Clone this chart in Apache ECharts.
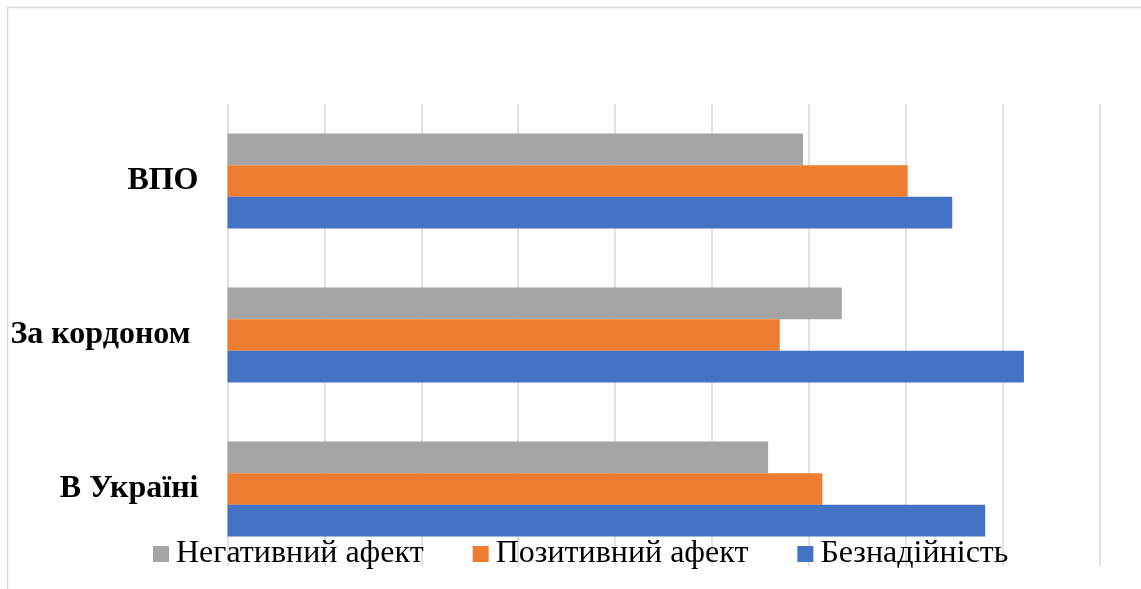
<!DOCTYPE html>
<html>
<head>
<meta charset="utf-8">
<script src="https://cdn.jsdelivr.net/npm/echarts@6/dist/echarts.min.js"></script>
<style>
  html, body { margin: 0; padding: 0; background: #ffffff; }
  #chart { width: 1141px; height: 589px; }
</style>
</head>
<body>
<div id="chart"></div>
<script>
// Groups, listed from the bottom of the chart upward
const categories = ['В Україні', 'За кордоном ', 'ВПО'];

// Series names and their values per group (same order as categories)
const seriesNames = ['Негативний афект', 'Позитивний афект', 'Безнадійність'];
const negativeAffect = [27.9, 31.7, 29.7];
const positiveAffect = [30.7, 28.5, 35.1];
const hopelessness   = [39.1, 41.1, 37.4];

const seriesColors = ['#a5a5a5', '#ed7d31', '#4472c4'];
const seriesValues = [negativeAffect, positiveAffect, hopelessness];

const chart = echarts.init(document.getElementById('chart'), null, { renderer: 'canvas' });

const serif = '"Liberation Serif", "Times New Roman", "DejaVu Serif", serif';

chart.setOption({
  animation: false,
  backgroundColor: '#ffffff',
  graphic: [{
    type: 'rect',
    shape: { x: 7.5, y: 7.5, width: 1200, height: 700 },
    style: { fill: 'none', stroke: '#d9d9d9', lineWidth: 1.5 },
    silent: true,
    z: -10
  }],
  grid: { left: 227.5, right: 41.5, top: 104, bottom: 23, containLabel: false },
  legend: {
    data: seriesNames,
    left: 153,
    top: 538,
    padding: 0,
    itemWidth: 16,
    itemHeight: 16,
    itemGap: 49,
    icon: 'rect',
    textStyle: { fontFamily: serif, fontSize: 32, color: '#000000', lineHeight: 32, padding: [0, 0, 0, 2] }
  },
  xAxis: {
    type: 'value',
    min: 0,
    max: 45,
    interval: 5,
    axisLabel: { show: false },
    axisLine: { show: false },
    axisTick: { show: false },
    splitLine: { show: true, lineStyle: { color: '#d9d9d9', width: 1.5 } }
  },
  yAxis: {
    type: 'category',
    data: categories,
    axisLine: { show: false },
    axisTick: { show: false },
    axisLabel: {
      fontFamily: serif,
      fontSize: 32,
      fontWeight: 'bold',
      color: '#000000',
      margin: 29
    }
  },
  series: seriesNames.map((name, i) => ({
    name: name,
    type: 'bar',
    data: seriesValues[i],
    barGap: '0%',
    barCategoryGap: '38.3%',
    itemStyle: { color: seriesColors[i] }
  }))
});
</script>
</body>
</html>
